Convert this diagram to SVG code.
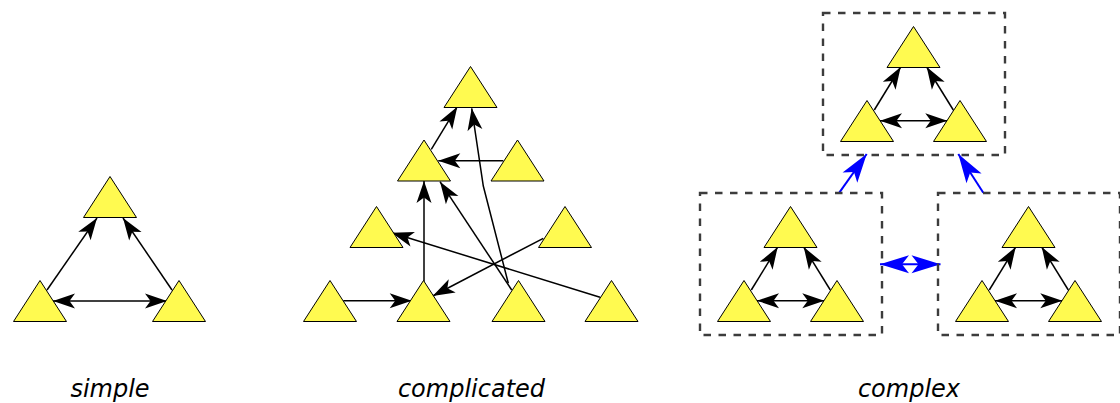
<svg xmlns="http://www.w3.org/2000/svg" xmlns:xlink="http://www.w3.org/1999/xlink" width="1120" height="403" viewBox="0 0 1120 403">
  <style>
    .node { fill: #fffa50; stroke: #000; stroke-width: 1; stroke-linejoin: miter; }
    .edge { fill: none; stroke: #000; stroke-width: 1.5; }
    .link { fill: none; stroke: #0000ff; stroke-width: 2; }
    .box { fill: none; stroke: #3c3c3c; stroke-width: 2.4; stroke-dasharray: 7.5 7.5; }
    .label { font-family: "DejaVu Sans", "Liberation Sans", sans-serif; font-style: italic; font-size: 24px; fill: #000; text-anchor: middle; }
  </style>
  <defs>
    <path id="tri" d="M0,-20.5 L26.5,20.5 L-26.5,20.5 Z"/>
    <marker id="ah" markerUnits="userSpaceOnUse" markerWidth="23" markerHeight="15" refX="22" refY="7.5" orient="auto-start-reverse" overflow="visible">
      <path d="M22,7.5 L0,0 L5.5,7.5 L0,15 Z" fill="#000"/>
    </marker>
    <marker id="ahBlue" markerUnits="userSpaceOnUse" markerWidth="29" markerHeight="18" refX="29" refY="9" orient="auto-start-reverse" overflow="visible">
      <path d="M29,9 L0,0 L7,9 L0,18 Z" fill="#0000ff"/>
    </marker>
    <!-- one three-node cluster, reused inside each dashed box -->
    <g id="cluster">
      <g class="edge-set">
        <line class="edge" x1="874.3" y1="110" x2="900.7" y2="67" marker-end="url(#ah)"/>
        <line class="edge" x1="953.3" y1="110" x2="926.7" y2="67" marker-end="url(#ah)"/>
        <line class="edge" x1="880" y1="120.7" x2="947.3" y2="120.7" marker-start="url(#ah)" marker-end="url(#ah)"/>
      </g>
      <use xlink:href="#tri" class="node" x="913.5" y="47"/>
      <use xlink:href="#tri" class="node" x="867" y="121"/>
      <use xlink:href="#tri" class="node" x="960" y="121"/>
    </g>
  </defs>

  <!-- simple -->
  <g id="simple-edges">
    <line class="edge" x1="47" y1="290" x2="97" y2="218" marker-end="url(#ah)"/>
    <line class="edge" x1="172" y1="290" x2="123" y2="218" marker-end="url(#ah)"/>
    <line class="edge" x1="53" y1="301" x2="167" y2="301" marker-start="url(#ah)" marker-end="url(#ah)"/>
  </g>
  <g id="simple-top"><use xlink:href="#tri" class="node" x="110" y="197"/></g>
  <g id="simple-left"><use xlink:href="#tri" class="node" x="40" y="301"/></g>
  <g id="simple-right"><use xlink:href="#tri" class="node" x="179" y="301"/></g>

  <!-- complicated -->
  <g id="complicated-edges">
    <line class="edge" x1="431.3" y1="149.3" x2="457.3" y2="106.7" marker-end="url(#ah)"/>
    <line class="edge" x1="503.3" y1="160.7" x2="438.3" y2="160.7" marker-end="url(#ah)"/>
    <line class="edge" x1="424" y1="281.7" x2="424" y2="181" marker-end="url(#ah)"/>
    <line class="edge" x1="511.7" y1="290" x2="440" y2="181.7" marker-end="url(#ah)"/>
    <polyline class="edge" points="508.3,283.3 483.3,186 471.7,108.3" marker-end="url(#ah)"/>
    <line class="edge" x1="343.3" y1="300.7" x2="411.7" y2="300.7" marker-end="url(#ah)"/>
    <line class="edge" x1="543.3" y1="238.3" x2="432.7" y2="296" marker-end="url(#ah)"/>
    <line class="edge" x1="600" y1="297.3" x2="391.7" y2="232.7" marker-end="url(#ah)"/>
  </g>
  <g id="c-t1"><use xlink:href="#tri" class="node" x="470.5" y="87"/></g>
  <g id="c-t2"><use xlink:href="#tri" class="node" x="424" y="160.5"/></g>
  <g id="c-t3"><use xlink:href="#tri" class="node" x="517.5" y="160.5"/></g>
  <g id="c-t4"><use xlink:href="#tri" class="node" x="376.5" y="227"/></g>
  <g id="c-t5"><use xlink:href="#tri" class="node" x="565" y="227"/></g>
  <g id="c-b1"><use xlink:href="#tri" class="node" x="330" y="301"/></g>
  <g id="c-b2"><use xlink:href="#tri" class="node" x="423.5" y="301"/></g>
  <g id="c-b3"><use xlink:href="#tri" class="node" x="518.5" y="301"/></g>
  <g id="c-b4"><use xlink:href="#tri" class="node" x="611.5" y="301"/></g>

  <!-- complex: three clusters linked together -->
  <g id="complex-links">
    <line class="link" x1="839.3" y1="192.7" x2="866.7" y2="154" marker-end="url(#ahBlue)"/>
    <line class="link" x1="983.3" y1="192.7" x2="958.3" y2="154" marker-end="url(#ahBlue)"/>
    <line class="link" x1="880" y1="264.3" x2="940.5" y2="264.3" marker-start="url(#ahBlue)" marker-end="url(#ahBlue)"/>
  </g>
  <g id="cluster-top">
    <rect class="box" x="823" y="13" width="182" height="142"/>
    <use xlink:href="#cluster"/>
  </g>
  <g id="cluster-left" transform="translate(-123,180)">
    <rect class="box" x="823" y="13" width="182" height="142"/>
    <use xlink:href="#cluster"/>
  </g>
  <g id="cluster-right" transform="translate(115,180)">
    <rect class="box" x="823" y="13" width="182" height="142"/>
    <use xlink:href="#cluster"/>
  </g>

  <g id="labels">
    <text class="label" x="110" y="397">simple</text>
    <text class="label" x="471.5" y="397">complicated</text>
    <text class="label" x="909" y="397">complex</text>
  </g>
</svg>
